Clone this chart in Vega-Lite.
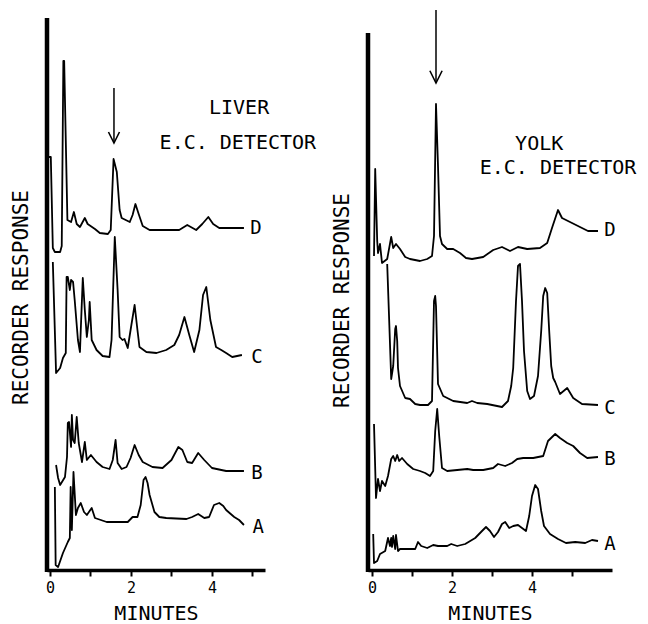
{
"$schema": "https://vega.github.io/schema/vega-lite/v6.json",
"background": "white",
"autosize": {"type": "pad"},
"padding": {"left": 10, "top": 9, "right": 0, "bottom": 0},
"bounds": "flush",
"spacing": 103,
"config": {"view": {"stroke": null}, "font": "DejaVu Sans Mono"},
"datasets": {
"liver": [
{"s":"D","i":0,"t":-0.05,"r":413},{"s":"D","i":1,"t":0.02,"r":413},{"s":"D","i":2,"t":0.07,"r":322},{"s":"D","i":3,"t":0.12,"r":318},{"s":"D","i":4,"t":0.25,"r":318},{"s":"D","i":5,"t":0.29,"r":324},{"s":"D","i":6,"t":0.33,"r":509},{"s":"D","i":7,"t":0.35,"r":509},{"s":"D","i":8,"t":0.43,"r":350},{"s":"D","i":9,"t":0.52,"r":348},{"s":"D","i":10,"t":0.59,"r":358},{"s":"D","i":11,"t":0.66,"r":346},{"s":"D","i":12,"t":0.74,"r":343},{"s":"D","i":13,"t":0.86,"r":352},{"s":"D","i":14,"t":0.93,"r":346},{"s":"D","i":15,"t":1.11,"r":341},{"s":"D","i":16,"t":1.23,"r":337},{"s":"D","i":17,"t":1.43,"r":336},{"s":"D","i":18,"t":1.5,"r":340},{"s":"D","i":19,"t":1.57,"r":411},{"s":"D","i":20,"t":1.65,"r":398},{"s":"D","i":21,"t":1.72,"r":360},{"s":"D","i":22,"t":1.77,"r":352},{"s":"D","i":23,"t":1.97,"r":348},{"s":"D","i":24,"t":2.04,"r":355},{"s":"D","i":25,"t":2.11,"r":366},{"s":"D","i":26,"t":2.19,"r":356},{"s":"D","i":27,"t":2.29,"r":344},{"s":"D","i":28,"t":2.46,"r":340},{"s":"D","i":29,"t":3.19,"r":340},{"s":"D","i":30,"t":3.39,"r":345},{"s":"D","i":31,"t":3.61,"r":340},{"s":"D","i":32,"t":3.76,"r":346},{"s":"D","i":33,"t":3.91,"r":353},{"s":"D","i":34,"t":4.03,"r":346},{"s":"D","i":35,"t":4.18,"r":342},{"s":"D","i":36,"t":4.79,"r":342},
{"s":"C","i":0,"t":0.07,"r":308},{"s":"C","i":1,"t":0.15,"r":197},{"s":"C","i":2,"t":0.25,"r":202},{"s":"C","i":3,"t":0.32,"r":212},{"s":"C","i":4,"t":0.39,"r":217},{"s":"C","i":5,"t":0.41,"r":293},{"s":"C","i":6,"t":0.44,"r":293},{"s":"C","i":7,"t":0.49,"r":280},{"s":"C","i":8,"t":0.52,"r":290},{"s":"C","i":9,"t":0.57,"r":288},{"s":"C","i":10,"t":0.61,"r":270},{"s":"C","i":11,"t":0.69,"r":230},{"s":"C","i":12,"t":0.74,"r":218},{"s":"C","i":13,"t":0.76,"r":240},{"s":"C","i":14,"t":0.81,"r":292},{"s":"C","i":15,"t":0.86,"r":260},{"s":"C","i":16,"t":0.91,"r":233},{"s":"C","i":17,"t":0.96,"r":250},{"s":"C","i":18,"t":0.98,"r":268},{"s":"C","i":19,"t":1.03,"r":230},{"s":"C","i":20,"t":1.15,"r":220},{"s":"C","i":21,"t":1.3,"r":214},{"s":"C","i":22,"t":1.47,"r":213},{"s":"C","i":23,"t":1.52,"r":230},{"s":"C","i":24,"t":1.6,"r":333},{"s":"C","i":25,"t":1.67,"r":280},{"s":"C","i":26,"t":1.72,"r":233},{"s":"C","i":27,"t":1.79,"r":230},{"s":"C","i":28,"t":1.84,"r":231},{"s":"C","i":29,"t":1.92,"r":222},{"s":"C","i":30,"t":2.01,"r":245},{"s":"C","i":31,"t":2.09,"r":265},{"s":"C","i":32,"t":2.16,"r":240},{"s":"C","i":33,"t":2.21,"r":223},{"s":"C","i":34,"t":2.38,"r":218},{"s":"C","i":35,"t":2.63,"r":217},{"s":"C","i":36,"t":2.87,"r":220},{"s":"C","i":37,"t":3.07,"r":225},{"s":"C","i":38,"t":3.19,"r":235},{"s":"C","i":39,"t":3.32,"r":253},{"s":"C","i":40,"t":3.44,"r":235},{"s":"C","i":41,"t":3.56,"r":218},{"s":"C","i":42,"t":3.69,"r":240},{"s":"C","i":43,"t":3.78,"r":275},{"s":"C","i":44,"t":3.86,"r":283},{"s":"C","i":45,"t":3.96,"r":250},{"s":"C","i":46,"t":4.1,"r":223},{"s":"C","i":47,"t":4.23,"r":220},{"s":"C","i":48,"t":4.35,"r":217},{"s":"C","i":49,"t":4.5,"r":213},{"s":"C","i":50,"t":4.62,"r":214},{"s":"C","i":51,"t":4.74,"r":215},
{"s":"B","i":0,"t":0.15,"r":105},{"s":"B","i":1,"t":0.2,"r":92},{"s":"B","i":2,"t":0.25,"r":85},{"s":"B","i":3,"t":0.37,"r":93},{"s":"B","i":4,"t":0.42,"r":113},{"s":"B","i":5,"t":0.44,"r":147},{"s":"B","i":6,"t":0.47,"r":148},{"s":"B","i":7,"t":0.52,"r":123},{"s":"B","i":8,"t":0.54,"r":155},{"s":"B","i":9,"t":0.57,"r":130},{"s":"B","i":10,"t":0.61,"r":127},{"s":"B","i":11,"t":0.66,"r":153},{"s":"B","i":12,"t":0.71,"r":127},{"s":"B","i":13,"t":0.79,"r":108},{"s":"B","i":14,"t":0.86,"r":128},{"s":"B","i":15,"t":0.91,"r":110},{"s":"B","i":16,"t":1.01,"r":115},{"s":"B","i":17,"t":1.15,"r":108},{"s":"B","i":18,"t":1.3,"r":103},{"s":"B","i":19,"t":1.47,"r":101},{"s":"B","i":20,"t":1.55,"r":110},{"s":"B","i":21,"t":1.62,"r":130},{"s":"B","i":22,"t":1.67,"r":107},{"s":"B","i":23,"t":1.77,"r":101},{"s":"B","i":24,"t":1.89,"r":103},{"s":"B","i":25,"t":1.99,"r":112},{"s":"B","i":26,"t":2.09,"r":125},{"s":"B","i":27,"t":2.19,"r":115},{"s":"B","i":28,"t":2.29,"r":108},{"s":"B","i":29,"t":2.53,"r":103},{"s":"B","i":30,"t":2.78,"r":102},{"s":"B","i":31,"t":3.0,"r":110},{"s":"B","i":32,"t":3.17,"r":123},{"s":"B","i":33,"t":3.27,"r":120},{"s":"B","i":34,"t":3.39,"r":108},{"s":"B","i":35,"t":3.51,"r":107},{"s":"B","i":36,"t":3.66,"r":117},{"s":"B","i":37,"t":3.81,"r":110},{"s":"B","i":38,"t":4.0,"r":102},{"s":"B","i":39,"t":4.35,"r":99},{"s":"B","i":40,"t":4.79,"r":99},
{"s":"A","i":0,"t":0.12,"r":83},{"s":"A","i":1,"t":0.14,"r":5},{"s":"A","i":2,"t":0.2,"r":3},{"s":"A","i":3,"t":0.32,"r":17},{"s":"A","i":4,"t":0.44,"r":28},{"s":"A","i":5,"t":0.49,"r":32},{"s":"A","i":6,"t":0.51,"r":83},{"s":"A","i":7,"t":0.54,"r":40},{"s":"A","i":8,"t":0.58,"r":98},{"s":"A","i":9,"t":0.64,"r":55},{"s":"A","i":10,"t":0.69,"r":62},{"s":"A","i":11,"t":0.76,"r":67},{"s":"A","i":12,"t":0.84,"r":58},{"s":"A","i":13,"t":0.91,"r":55},{"s":"A","i":14,"t":1.03,"r":62},{"s":"A","i":15,"t":1.11,"r":52},{"s":"A","i":16,"t":1.4,"r":48},{"s":"A","i":17,"t":1.92,"r":48},{"s":"A","i":18,"t":2.04,"r":53},{"s":"A","i":19,"t":2.16,"r":53},{"s":"A","i":20,"t":2.24,"r":65},{"s":"A","i":21,"t":2.31,"r":90},{"s":"A","i":22,"t":2.36,"r":93},{"s":"A","i":23,"t":2.41,"r":87},{"s":"A","i":24,"t":2.46,"r":75},{"s":"A","i":25,"t":2.58,"r":58},{"s":"A","i":26,"t":2.7,"r":53},{"s":"A","i":27,"t":2.87,"r":52},{"s":"A","i":28,"t":3.37,"r":51},{"s":"A","i":29,"t":3.51,"r":53},{"s":"A","i":30,"t":3.66,"r":56},{"s":"A","i":31,"t":3.81,"r":52},{"s":"A","i":32,"t":3.93,"r":53},{"s":"A","i":33,"t":4.05,"r":65},{"s":"A","i":34,"t":4.18,"r":67},{"s":"A","i":35,"t":4.28,"r":64},{"s":"A","i":36,"t":4.35,"r":60},{"s":"A","i":37,"t":4.55,"r":53},{"s":"A","i":38,"t":4.67,"r":50},{"s":"A","i":39,"t":4.79,"r":45}
],
"yolk": [
{"s":"D","i":0,"t":0.05,"r":314},{"s":"D","i":1,"t":0.08,"r":401},{"s":"D","i":2,"t":0.13,"r":329},{"s":"D","i":3,"t":0.15,"r":317},{"s":"D","i":4,"t":0.2,"r":326},{"s":"D","i":5,"t":0.25,"r":307},{"s":"D","i":6,"t":0.38,"r":311},{"s":"D","i":7,"t":0.48,"r":333},{"s":"D","i":8,"t":0.53,"r":322},{"s":"D","i":9,"t":0.6,"r":326},{"s":"D","i":10,"t":0.7,"r":321},{"s":"D","i":11,"t":0.83,"r":313},{"s":"D","i":12,"t":0.95,"r":311},{"s":"D","i":13,"t":1.2,"r":309},{"s":"D","i":14,"t":1.38,"r":311},{"s":"D","i":15,"t":1.5,"r":314},{"s":"D","i":16,"t":1.55,"r":334},{"s":"D","i":17,"t":1.6,"r":466},{"s":"D","i":18,"t":1.65,"r":404},{"s":"D","i":19,"t":1.7,"r":334},{"s":"D","i":20,"t":1.75,"r":326},{"s":"D","i":21,"t":1.88,"r":321},{"s":"D","i":22,"t":2.03,"r":321},{"s":"D","i":23,"t":2.2,"r":317},{"s":"D","i":24,"t":2.35,"r":312},{"s":"D","i":25,"t":2.5,"r":311},{"s":"D","i":26,"t":2.78,"r":313},{"s":"D","i":27,"t":3.03,"r":320},{"s":"D","i":28,"t":3.25,"r":323},{"s":"D","i":29,"t":3.45,"r":319},{"s":"D","i":30,"t":3.65,"r":323},{"s":"D","i":31,"t":3.88,"r":321},{"s":"D","i":32,"t":4.2,"r":322},{"s":"D","i":33,"t":4.38,"r":327},{"s":"D","i":34,"t":4.5,"r":342},{"s":"D","i":35,"t":4.65,"r":360},{"s":"D","i":36,"t":4.75,"r":352},{"s":"D","i":37,"t":4.95,"r":348},{"s":"D","i":38,"t":5.2,"r":343},{"s":"D","i":39,"t":5.4,"r":339},{"s":"D","i":40,"t":5.65,"r":339},
{"s":"C","i":0,"t":0.38,"r":306},{"s":"C","i":1,"t":0.43,"r":249},{"s":"C","i":2,"t":0.48,"r":191},{"s":"C","i":3,"t":0.53,"r":204},{"s":"C","i":4,"t":0.58,"r":241},{"s":"C","i":5,"t":0.6,"r":244},{"s":"C","i":6,"t":0.63,"r":229},{"s":"C","i":7,"t":0.65,"r":202},{"s":"C","i":8,"t":0.7,"r":184},{"s":"C","i":9,"t":0.83,"r":172},{"s":"C","i":10,"t":0.95,"r":171},{"s":"C","i":11,"t":1.08,"r":166},{"s":"C","i":12,"t":1.2,"r":165},{"s":"C","i":13,"t":1.4,"r":165},{"s":"C","i":14,"t":1.5,"r":169},{"s":"C","i":15,"t":1.55,"r":269},{"s":"C","i":16,"t":1.58,"r":274},{"s":"C","i":17,"t":1.6,"r":264},{"s":"C","i":18,"t":1.65,"r":186},{"s":"C","i":19,"t":1.78,"r":174},{"s":"C","i":20,"t":2.03,"r":169},{"s":"C","i":21,"t":2.38,"r":167},{"s":"C","i":22,"t":2.5,"r":169},{"s":"C","i":23,"t":2.63,"r":167},{"s":"C","i":24,"t":2.88,"r":166},{"s":"C","i":25,"t":3.25,"r":163},{"s":"C","i":26,"t":3.4,"r":169},{"s":"C","i":27,"t":3.48,"r":184},{"s":"C","i":28,"t":3.53,"r":202},{"s":"C","i":29,"t":3.6,"r":269},{"s":"C","i":30,"t":3.65,"r":304},{"s":"C","i":31,"t":3.7,"r":306},{"s":"C","i":32,"t":3.75,"r":269},{"s":"C","i":33,"t":3.8,"r":219},{"s":"C","i":34,"t":3.88,"r":179},{"s":"C","i":35,"t":3.95,"r":171},{"s":"C","i":36,"t":4.05,"r":174},{"s":"C","i":37,"t":4.15,"r":194},{"s":"C","i":38,"t":4.23,"r":239},{"s":"C","i":39,"t":4.28,"r":274},{"s":"C","i":40,"t":4.33,"r":282},{"s":"C","i":41,"t":4.38,"r":277},{"s":"C","i":42,"t":4.43,"r":239},{"s":"C","i":43,"t":4.48,"r":204},{"s":"C","i":44,"t":4.53,"r":192},{"s":"C","i":45,"t":4.58,"r":188},{"s":"C","i":46,"t":4.7,"r":176},{"s":"C","i":47,"t":4.88,"r":182},{"s":"C","i":48,"t":5.03,"r":172},{"s":"C","i":49,"t":5.25,"r":166},{"s":"C","i":50,"t":5.65,"r":165},
{"s":"B","i":0,"t":0.05,"r":146},{"s":"B","i":1,"t":0.1,"r":72},{"s":"B","i":2,"t":0.15,"r":91},{"s":"B","i":3,"t":0.2,"r":79},{"s":"B","i":4,"t":0.25,"r":89},{"s":"B","i":5,"t":0.33,"r":84},{"s":"B","i":6,"t":0.4,"r":94},{"s":"B","i":7,"t":0.48,"r":111},{"s":"B","i":8,"t":0.53,"r":114},{"s":"B","i":9,"t":0.58,"r":109},{"s":"B","i":10,"t":0.63,"r":115},{"s":"B","i":11,"t":0.68,"r":109},{"s":"B","i":12,"t":0.75,"r":112},{"s":"B","i":13,"t":0.88,"r":106},{"s":"B","i":14,"t":1.03,"r":101},{"s":"B","i":15,"t":1.2,"r":99},{"s":"B","i":16,"t":1.33,"r":97},{"s":"B","i":17,"t":1.45,"r":94},{"s":"B","i":18,"t":1.53,"r":99},{"s":"B","i":19,"t":1.58,"r":139},{"s":"B","i":20,"t":1.63,"r":161},{"s":"B","i":21,"t":1.68,"r":134},{"s":"B","i":22,"t":1.75,"r":102},{"s":"B","i":23,"t":1.88,"r":99},{"s":"B","i":24,"t":2.13,"r":100},{"s":"B","i":25,"t":2.38,"r":101},{"s":"B","i":26,"t":2.53,"r":100},{"s":"B","i":27,"t":2.78,"r":100},{"s":"B","i":28,"t":3.03,"r":102},{"s":"B","i":29,"t":3.15,"r":106},{"s":"B","i":30,"t":3.33,"r":104},{"s":"B","i":31,"t":3.5,"r":107},{"s":"B","i":32,"t":3.63,"r":111},{"s":"B","i":33,"t":3.78,"r":112},{"s":"B","i":34,"t":4.03,"r":112},{"s":"B","i":35,"t":4.28,"r":114},{"s":"B","i":36,"t":4.4,"r":129},{"s":"B","i":37,"t":4.58,"r":136},{"s":"B","i":38,"t":4.7,"r":132},{"s":"B","i":39,"t":4.88,"r":127},{"s":"B","i":40,"t":5.03,"r":124},{"s":"B","i":41,"t":5.2,"r":117},{"s":"B","i":42,"t":5.38,"r":112},{"s":"B","i":43,"t":5.65,"r":113},
{"s":"A","i":0,"t":0.03,"r":36},{"s":"A","i":1,"t":0.05,"r":7},{"s":"A","i":2,"t":0.13,"r":9},{"s":"A","i":3,"t":0.2,"r":16},{"s":"A","i":4,"t":0.33,"r":19},{"s":"A","i":5,"t":0.4,"r":32},{"s":"A","i":6,"t":0.45,"r":24},{"s":"A","i":7,"t":0.48,"r":32},{"s":"A","i":8,"t":0.5,"r":23},{"s":"A","i":9,"t":0.53,"r":34},{"s":"A","i":10,"t":0.58,"r":21},{"s":"A","i":11,"t":0.6,"r":35},{"s":"A","i":12,"t":0.65,"r":19},{"s":"A","i":13,"t":0.7,"r":21},{"s":"A","i":14,"t":1.08,"r":21},{"s":"A","i":15,"t":1.15,"r":28},{"s":"A","i":16,"t":1.23,"r":24},{"s":"A","i":17,"t":1.38,"r":22},{"s":"A","i":18,"t":1.53,"r":25},{"s":"A","i":19,"t":1.65,"r":24},{"s":"A","i":20,"t":1.88,"r":24},{"s":"A","i":21,"t":1.98,"r":26},{"s":"A","i":22,"t":2.13,"r":24},{"s":"A","i":23,"t":2.33,"r":26},{"s":"A","i":24,"t":2.58,"r":32},{"s":"A","i":25,"t":2.75,"r":39},{"s":"A","i":26,"t":2.85,"r":43},{"s":"A","i":27,"t":2.95,"r":39},{"s":"A","i":28,"t":3.05,"r":33},{"s":"A","i":29,"t":3.15,"r":38},{"s":"A","i":30,"t":3.25,"r":46},{"s":"A","i":31,"t":3.33,"r":48},{"s":"A","i":32,"t":3.43,"r":42},{"s":"A","i":33,"t":3.53,"r":44},{"s":"A","i":34,"t":3.65,"r":45},{"s":"A","i":35,"t":3.75,"r":42},{"s":"A","i":36,"t":3.85,"r":39},{"s":"A","i":37,"t":3.93,"r":54},{"s":"A","i":38,"t":4.0,"r":74},{"s":"A","i":39,"t":4.08,"r":85},{"s":"A","i":40,"t":4.15,"r":81},{"s":"A","i":41,"t":4.23,"r":59},{"s":"A","i":42,"t":4.3,"r":44},{"s":"A","i":43,"t":4.45,"r":36},{"s":"A","i":44,"t":4.65,"r":31},{"s":"A","i":45,"t":4.85,"r":27},{"s":"A","i":46,"t":5.08,"r":28},{"s":"A","i":47,"t":5.33,"r":27},{"s":"A","i":48,"t":5.5,"r":30},{"s":"A","i":49,"t":5.65,"r":29}
]
},
"hconcat": [
{
"width": 218, "height": 561,
"encoding": {
"x": {"field": "t", "type": "quantitative", "scale": {"domain": [-0.074, 5.31], "nice": false, "zero": false},
 "axis": {"title": "MINUTES", "values": [0,1,2,3,4,5], "labelExpr": "datum.value % 2 == 0 ? datum.label : ''", "grid": false, "domainWidth": 3.5, "domainColor": "black", "tickColor": "black", "tickWidth": 2, "tickSize": 6, "labelFontSize": 15, "labelFont": "DejaVu Sans Mono", "labelColor": "black", "labelPadding": 4, "titleFontSize": 20, "titleFont": "DejaVu Sans Mono", "titleFontWeight": "normal", "titleColor": "black", "titlePadding": 8}},
"y": {"field": "r", "type": "quantitative", "scale": {"domain": [0, 561], "nice": false, "zero": false},
 "axis": {"title": "RECORDER RESPONSE", "domain": false, "ticks": false, "labels": false, "grid": false, "titleFontSize": 21, "titleFont": "DejaVu Sans Mono", "titleFontWeight": "normal", "titleColor": "black", "titlePadding": 16, "titleY": 288}}
},
"layer": [
{"data": {"name": "liver"}, "mark": {"type": "line", "color": "black", "strokeWidth": 1.8, "strokeJoin": "round"},
 "encoding": {"detail": {"field": "s"}, "order": {"field": "i", "type": "quantitative"}}},
{"data": {"values": [{"t": -0.074, "r": -2, "r2": 552}]}, "mark": {"type": "rule", "color": "black", "strokeWidth": 4.5},
 "encoding": {"y2": {"field": "r2"}}},
{"data": {"values": [{"t": 1.58, "r": 482, "r2": 427}]}, "mark": {"type": "rule", "color": "black", "strokeWidth": 1.5},
 "encoding": {"y2": {"field": "r2"}}},
{"data": {"values": [{"t": 1.58, "r": 427}]}, "mark": {"type": "point", "shape": "M-1,-2L0,0L1,-2", "size": 121, "filled": false, "color": "black", "strokeWidth": 1.6, "opacity": 1}},
{"data": {"values": [{"t": 4.67, "r": 462, "label": "LIVER"}, {"t": 4.64, "r": 427, "label": "E.C. DETECTOR"}]},
 "mark": {"type": "text", "font": "DejaVu Sans Mono", "fontSize": 20, "color": "black", "align": "center", "baseline": "middle"},
 "encoding": {"text": {"field": "label"}}},
{"data": {"values": [{"t": 5.09, "r": 342, "label": "D"}, {"t": 5.11, "r": 213, "label": "C"}, {"t": 5.11, "r": 97, "label": "B"}, {"t": 5.14, "r": 43, "label": "A"}]},
 "mark": {"type": "text", "font": "DejaVu Sans Mono", "fontSize": 19, "color": "black", "align": "center", "baseline": "middle"},
 "encoding": {"text": {"field": "label"}}}
]
},
{
"width": 244, "height": 561,
"encoding": {
"x": {"field": "t", "type": "quantitative", "scale": {"domain": [-0.1, 6.0], "nice": false, "zero": false},
 "axis": {"title": "MINUTES", "values": [0,1,2,3,4,5], "labelExpr": "datum.value % 2 == 0 ? datum.label : ''", "grid": false, "domainWidth": 3.5, "domainColor": "black", "tickColor": "black", "tickWidth": 2, "tickSize": 6, "labelFontSize": 15, "labelFont": "DejaVu Sans Mono", "labelColor": "black", "labelPadding": 4, "titleFontSize": 20, "titleFont": "DejaVu Sans Mono", "titleFontWeight": "normal", "titleColor": "black", "titlePadding": 8}},
"y": {"field": "r", "type": "quantitative", "scale": {"domain": [0, 561], "nice": false, "zero": false},
 "axis": {"title": "RECORDER RESPONSE", "domain": false, "ticks": false, "labels": false, "grid": false, "titleFontSize": 21, "titleFont": "DejaVu Sans Mono", "titleFontWeight": "normal", "titleColor": "black", "titlePadding": 16, "titleY": 291}}
},
"layer": [
{"data": {"name": "yolk"}, "mark": {"type": "line", "color": "black", "strokeWidth": 1.8, "strokeJoin": "round"},
 "encoding": {"detail": {"field": "s"}, "order": {"field": "i", "type": "quantitative"}}},
{"data": {"values": [{"t": -0.1, "r": -2, "r2": 537}]}, "mark": {"type": "rule", "color": "black", "strokeWidth": 4.5},
 "encoding": {"y2": {"field": "r2"}}},
{"data": {"values": [{"t": 1.6, "r": 560, "r2": 487}]}, "mark": {"type": "rule", "color": "black", "strokeWidth": 1.5},
 "encoding": {"y2": {"field": "r2"}}},
{"data": {"values": [{"t": 1.6, "r": 487}]}, "mark": {"type": "point", "shape": "M-1,-2L0,0L1,-2", "size": 150, "filled": false, "color": "black", "strokeWidth": 1.6, "opacity": 1}},
{"data": {"values": [{"t": 4.18, "r": 426, "label": "YOLK"}, {"t": 4.65, "r": 402, "label": "E.C. DETECTOR"}]},
 "mark": {"type": "text", "font": "DejaVu Sans Mono", "fontSize": 20, "color": "black", "align": "center", "baseline": "middle"},
 "encoding": {"text": {"field": "label"}}},
{"data": {"values": [{"t": 5.95, "r": 340, "label": "D"}, {"t": 5.95, "r": 162, "label": "C"}, {"t": 5.95, "r": 111, "label": "B"}, {"t": 5.95, "r": 26, "label": "A"}]},
 "mark": {"type": "text", "font": "DejaVu Sans Mono", "fontSize": 19, "color": "black", "align": "center", "baseline": "middle"},
 "encoding": {"text": {"field": "label"}}}
]
}
]
}
